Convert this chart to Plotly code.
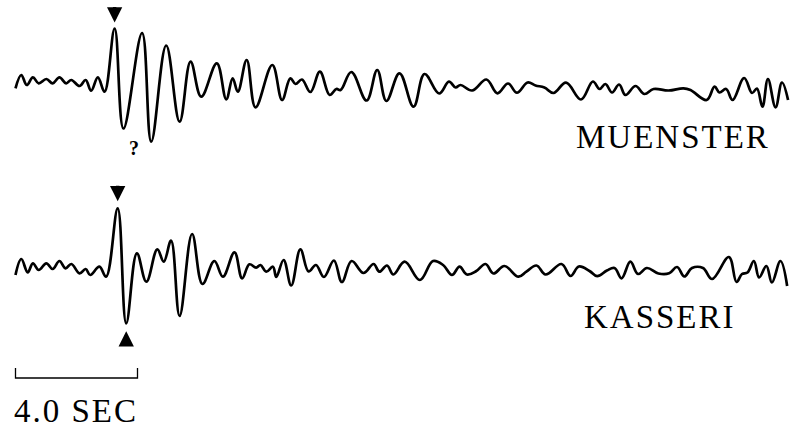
import plotly.graph_objects as go

# Seismograms: time (s) and trace amplitude (arbitrary units)
muenster_t = [
    0.00, 0.19, 0.37, 0.57, 0.76, 1.01, 1.22, 1.44, 1.66, 1.83, 2.10, 2.30, 2.48, 2.70, 2.92,
    3.25, 3.54, 4.15, 4.45, 4.94, 5.38, 5.74, 6.09, 6.60, 6.91, 7.12, 7.29, 7.58, 7.87, 8.42,
    8.74, 9.01, 9.18, 9.39, 9.67, 9.98, 10.30, 10.52, 10.66, 11.01, 11.51, 11.86, 12.16, 12.59,
    13.05, 13.41, 13.89, 14.21, 14.43, 14.59, 14.97, 15.44, 15.80, 16.15, 16.44, 16.79, 17.05,
    17.34, 17.64, 18.05, 18.54, 18.93, 19.15, 19.34, 19.56, 19.79, 20.00, 20.33, 20.62, 20.92,
    21.41, 21.90, 22.13, 22.66, 22.92, 23.08, 23.30, 23.51, 23.89, 24.15, 24.31, 24.49, 24.67,
    24.92, 25.13, 25.33,
]
muenster_amp = [
    -2.3, 11, 1, 8.7, 2.7, 7, 2.7, 8.7, 2.7, 6, 0, 6, -4.7, 8.7, -5.7,
    57.5, -42.5, 53, -55.7, 40.5, -35.7, 24.3, -10.7, 22.7, -13.3, 7.7, -5.7, 26, -21.3, 21,
    -14, 7.7, 2, 6.5, -6, 14.3, -9, -3, -4, 14, -14.5, 16, -15, 12.7,
    -20.7, 12, -7.5, 4.3, -1.5, 1, -4.5, 6.5, -7.3, 2.5, -6.7, 3.5, 0.5,
    -1.5, -7, 3.3, -13.5, 4.5, -3, 2, -6.5, 1.5, -9, 0, -8, -3,
    -4.5, -2.3, -4, -14, -0.7, -6.5, -3, -14, 8, -7, -2.5, -20.7, 7,
    -21.3, 3.5, -14,
]

kasseri_t = [
    0.00, 0.19, 0.40, 0.57, 0.76, 1.01, 1.22, 1.44, 1.64, 1.83, 2.10, 2.30, 2.45, 2.75, 2.97,
    3.35, 3.63, 3.98, 4.29, 4.65, 4.86, 5.10, 5.38, 5.79, 6.13, 6.52, 6.80, 7.18, 7.43, 7.67,
    7.89, 8.03, 8.22, 8.44, 8.55, 8.79, 9.04, 9.34, 9.61, 9.85, 10.11, 10.44, 10.70, 11.02,
    11.41, 11.74, 11.93, 12.18, 12.39, 12.76, 13.26, 13.69, 14.02, 14.31, 14.56, 14.80, 15.11,
    15.41, 15.67, 16.03, 16.49, 16.75, 17.08, 17.38, 17.90, 18.20, 18.47, 18.82, 19.07, 19.39,
    19.64, 19.87, 20.16, 20.41, 20.70, 21.08, 21.43, 21.69, 21.93, 22.18, 22.54, 22.84, 23.39,
    23.64, 23.82, 24.00, 24.21, 24.38, 24.62, 24.80, 25.08, 25.30,
]
kasseri_amp = [
    -6, 10, -3.3, 5.7, -1, 5.7, 0, 8, 0.7, 5, -4.3, 0, -6, 2.3, -7.7,
    60.7, -54.3, 15.7, -12.7, 19.7, 7.3, 28.3, -47, 35, -15, 8, -7.7, 16.7, -9.3, 4.7,
    1.3, 4, -2.7, 2.3, -8, 9, -16.5, 19.7, -2.5, 4, -8, 8.5, -13, 8,
    -4, 5, -2.7, 3.5, -5.5, 7.3, -11, 8, 4, -6, 2.3, -5.5, -2,
    5, -4.5, 3, -7.7, -2.7, 3.5, -5.5, 5, -7, 2.5, -2, -7.2, -1.5,
    1, -9.3, 7.3, -5, 1, -4.5, -4.3, 2, -7.5, 1, 1, -10, 12,
    -13, -5, -3.5, 8, -8.5, 3, -13.5, 8, -17,
]

stations = ["MUENSTER", "KASSERI"]
SCALE_SEC = 4.0

PX_PER_SEC = 30.5
X0 = 15.5
W, H = 792, 428
OFFSETS = {"MUENSTER": -86, "KASSERI": -269}
FONT = "Liberation Serif, Times New Roman, serif"

fig = go.Figure()

for name, t, amp in [("MUENSTER", muenster_t, muenster_amp),
                     ("KASSERI", kasseri_t, kasseri_amp)]:
    off = OFFSETS[name]
    fig.add_trace(
        go.Scatter(
            x=t,
            y=[a + off for a in amp],
            mode="lines",
            line=dict(color="black", width=2.7, shape="spline", smoothing=1.1),
            hoverinfo="skip",
            showlegend=False,
        )
    )

# time scale bar
fig.add_trace(
    go.Scatter(
        x=[0, 0, SCALE_SEC, SCALE_SEC],
        y=[-368, -378, -378, -368],
        mode="lines",
        line=dict(color="black", width=1.3),
        hoverinfo="skip",
        showlegend=False,
    )
)

# P-arrival arrows
arrows = [
    (muenster_t[15], OFFSETS["MUENSTER"] + muenster_amp[15] + 6, -17),
    (kasseri_t[15], OFFSETS["KASSERI"] + kasseri_amp[15] + 7, -17),
    (kasseri_t[16], OFFSETS["KASSERI"] + kasseri_amp[16] - 8, 16),
]
for ax_t, ay, dy in arrows:
    fig.add_annotation(
        x=ax_t, y=ay, ax=0, ay=dy, text="",
        showarrow=True, arrowhead=2, arrowsize=0.9, arrowwidth=3.4,
        arrowcolor="black",
    )

fig.add_annotation(
    x=3.87, y=-148, text="<b>?</b>", showarrow=False,
    font=dict(family=FONT, size=20, color="black"),
)

labels = [
    ("MUENSTER", 772 / W, 1 - 137 / H, "right"),
    ("KASSERI", 738 / W, 1 - 317 / H, "right"),
    ("4.0 SEC", 12 / W, 1 - 411 / H, "left"),
]
for txt, px, py, anchor in labels:
    fig.add_annotation(
        x=px, y=py, xref="paper", yref="paper",
        text=f'<span style="letter-spacing:2px">{txt}</span>',
        showarrow=False, xanchor=anchor, yanchor="middle",
        font=dict(family=FONT, size=33, color="black"),
    )

fig.update_layout(
    width=W,
    height=H,
    margin=dict(l=0, r=0, t=0, b=0),
    plot_bgcolor="white",
    paper_bgcolor="white",
    xaxis=dict(range=[-X0 / PX_PER_SEC, (W - X0) / PX_PER_SEC], visible=False),
    yaxis=dict(range=[-H, 0], visible=False),
)

fig.write_html(
    "out.html",
    config={"displayModeBar": False},
    post_script="document.body.style.margin='0';",
)
